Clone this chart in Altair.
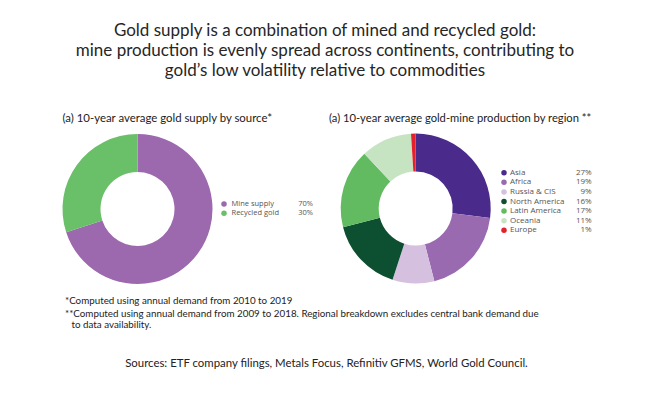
import altair as alt
import pandas as pd

# ---------------- data ----------------
title_lines = [
    "Gold supply is a combination of mined and recycled gold:",
    "mine production is evenly spread across continents, contributing to",
    "gold\u2019s low volatility relative to commodities",
]
left_title = "(a) 10-year average gold supply by source*"
right_title = "(a) 10-year average gold-mine production by region **"

source_labels = ["Mine supply", "Recycled gold"]
source_values = [70, 30]
source_colors = ["#9c68ae", "#6abf69"]

region_labels = ["Asia", "Africa", "Russia & CIS", "North America",
                 "Latin America", "Oceania", "Europe"]
region_values = [27, 19, 9, 16, 17, 11, 1]
region_colors = ["#4a2a8a", "#9a6ab0", "#d5c0df", "#0c4f31",
                 "#62bb60", "#c6e4c1", "#e3202b"]

footnotes = [
    "*Computed using annual demand from 2010 to 2019",
    "**Computed using annual demand from 2009 to 2018. Regional breakdown excludes central bank demand due",
    "to data availability.",
]
sources_note = "Sources: ETF company filings, Metals Focus, Refinitiv GFMS, World Gold Council."

FONT = "Lato"
LEG_FONT = "Open Sans"

src_df = pd.DataFrame({"label": source_labels, "value": source_values,
                       "idx": list(range(len(source_labels))),
                       "pct": [f"{v}%" for v in source_values]})
reg_df = pd.DataFrame({"label": region_labels, "value": region_values,
                       "idx": list(range(len(region_labels))),
                       "pct": [f"{v}%" for v in region_values]})


def text_layer(txt, x, y, size, align="left", color="#222222", font=FONT):
    return alt.Chart(pd.DataFrame({"t": [txt]})).mark_text(
        align=align, baseline="alphabetic", fontSize=size, font=font, color=color
    ).encode(text="t:N", x=alt.value(x), y=alt.value(y))


def donut(df, colors, cx, cy):
    return alt.Chart(df).mark_arc(outerRadius=75, innerRadius=37).encode(
        theta=alt.Theta("value:Q", stack=True),
        order=alt.Order("idx:Q"),
        color=alt.Color("label:N", scale=alt.Scale(domain=list(df["label"]), range=colors), legend=None),
        x=alt.value(cx), y=alt.value(cy),
    )


def legend(df, colors, xdot, xlab, xval, y0, y1, size):
    yenc = alt.Y("label:N", scale=alt.Scale(type="point", domain=list(df["label"]), range=[y0, y1], padding=0), axis=None)
    dots = alt.Chart(df).mark_circle(size=30, opacity=1).encode(
        y=yenc, x=alt.value(xdot),
        color=alt.Color("label:N", scale=alt.Scale(domain=list(df["label"]), range=colors), legend=None),
    )
    labs = alt.Chart(df).mark_text(align="left", baseline="middle", fontSize=size, font=LEG_FONT, color="#555555").encode(
        y=yenc, x=alt.value(xlab), text="label:N")
    vals = alt.Chart(df).mark_text(align="right", baseline="middle", fontSize=size, font=LEG_FONT, color="#555555").encode(
        y=yenc, x=alt.value(xval), text="pct:N")
    return [dots, labs, vals]


layers = []
for line, yb in zip(title_lines, [27.5, 47.5, 67.5]):
    layers.append(text_layer(line, 317, yb, 17, align="center", color="#262626"))
layers.append(text_layer(left_title, 54.5, 114, 11.4))
layers.append(text_layer(right_title, 321, 114, 11.2))

layers.append(donut(src_df, source_colors, 129.5, 201))
layers.append(donut(reg_df, region_colors, 407.7, 200.5))

layers += legend(src_df, source_colors, 216, 223.5, 305, 196, 205.3, 7.5)
layers += legend(reg_df, region_colors, 496, 502, 583.7, 164.7, 222.3, 8)

layers.append(text_layer(footnotes[0], 57, 295.5, 9.8))
layers.append(text_layer(footnotes[1], 57, 308.5, 9.8))
layers.append(text_layer(footnotes[2], 63.5, 320, 9.8))
layers.append(text_layer(sources_note, 318.5, 359, 11.4, align="center"))

chart = alt.layer(*layers).resolve_scale(
    color="independent", theta="independent", y="independent", x="independent"
).properties(
    width=634, height=384, padding=0, autosize="none"
).configure_view(stroke=None, strokeWidth=0)

chart.save("out.html", embed_options={"renderer": "svg", "actions": False})
